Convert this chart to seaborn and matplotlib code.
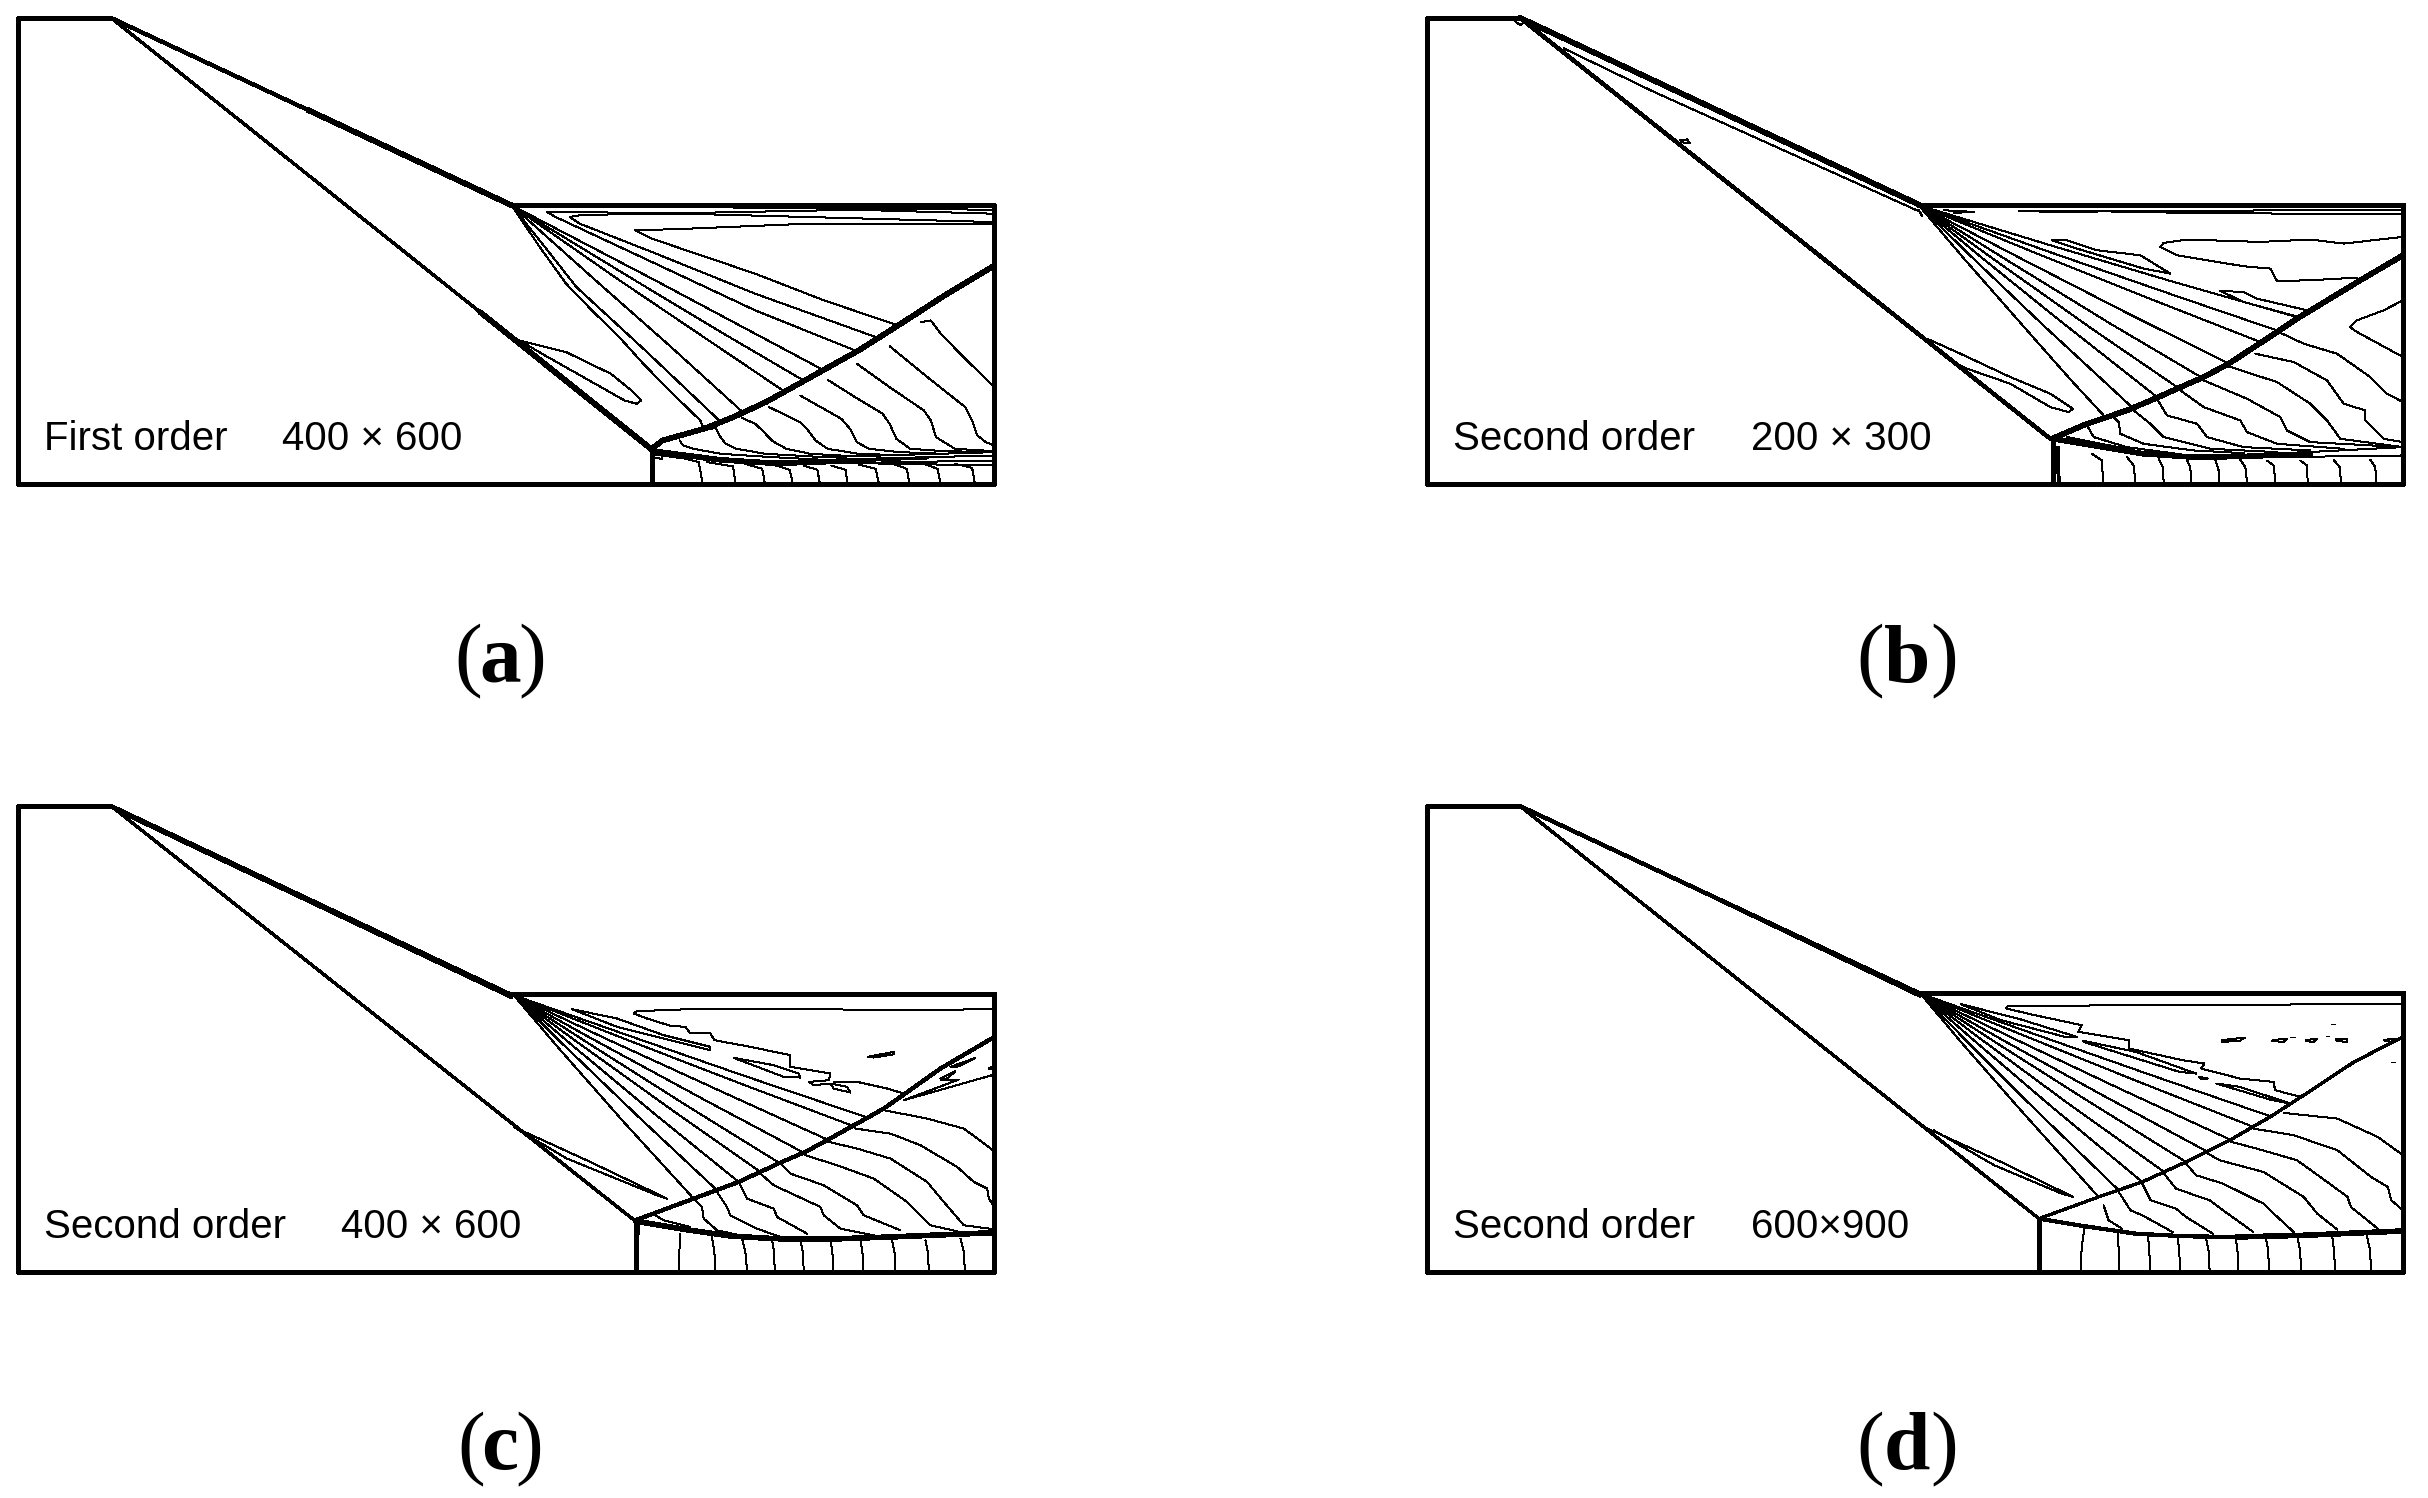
#!/usr/bin/env python3
"""Shock reflection contours: first order vs second order at several grid sizes."""

import pandas as pd
import matplotlib
matplotlib.use("Agg")
import matplotlib.pyplot as plt
import seaborn as sns

WIDTH, HEIGHT = 2428, 1498

# Values, every panel in its own reading units
# --- panel (a)
A_XLIM = (-1343, 1495)
A_YLIM = (912, -487)
A_FRAME = [[(-1072, -487), (-1343, -487), (-1343, 912), (1495, 912), (1495, 75), (92, 75)]]
A_HEAVY = [
    [(-500, -211), (92, 75)],
    [(0, 395), (500, 808)],
    [(505, 800), (530, 780), (650, 745), (740, 708), (830, 665), (940, 602), (1100, 510), (1215, 435), (1350, 345), (1495, 255)],
    [(505, 812), (600, 825), (700, 838), (850, 848), (1000, 845)],
]
A_MEDIUM = [
    [(-1072, -487), (-500, -211)],
    [(500, 812), (500, 912)],
]
A_LIGHT = [
    [(-1072, -487), (0, 395)],
    [(1000, 845), (1150, 838), (1300, 832)],
]
A_THIN = [
    [(1495, 130), (950, 130), (600, 145), (450, 150), (500, 175), (800, 280), (1000, 360), (1215, 435)],
    [(1495, 125), (600, 100), (300, 103), (260, 110), (290, 130), (500, 215), (800, 340), (1150, 470)],
    [(1495, 100), (1090, 88), (600, 98), (195, 95), (220, 110), (500, 245), (800, 390), (1090, 510)],
    [(360, 78), (1495, 88)],
    [(92, 75), (500, 295), (800, 460), (1000, 570)],
    [(92, 75), (460, 306), (700, 455), (940, 600)],
    [(92, 75), (400, 296), (650, 470), (880, 630)],
    [(92, 75), (350, 313), (550, 495), (760, 692)],
    [(92, 75), (200, 215), (280, 320), (480, 510), (700, 725)],
    [(92, 75), (170, 195), (250, 310), (330, 395), (400, 465), (470, 545), (540, 620), (640, 720), (650, 745)],
    [(580, 780), (590, 795), (620, 805), (700, 820), (850, 830), (1000, 838), (1495, 825)],
    [(655, 748), (685, 742), (695, 765), (712, 788), (745, 805), (830, 820), (1000, 830), (1495, 815)],
    [(760, 712), (800, 730), (825, 755), (850, 782), (890, 805), (960, 820), (1100, 828)],
    [(840, 680), (880, 700), (930, 725), (950, 745), (975, 780), (1010, 805), (1100, 820), (1250, 825)],
    [(930, 645), (990, 680), (1050, 715), (1075, 745), (1095, 785), (1130, 805), (1220, 815), (1350, 820)],
    [(1010, 598), (1090, 650), (1170, 700), (1190, 730), (1210, 775), (1250, 805), (1350, 812), (1495, 815)],
    [(1095, 550), (1190, 620), (1290, 690), (1310, 720), (1325, 770), (1380, 805), (1495, 812)],
    [(1190, 497), (1300, 590), (1410, 680), (1430, 720), (1445, 765), (1470, 785), (1495, 795)],
    [(1280, 425), (1310, 420), (1335, 455), (1400, 525), (1495, 620)],
    [(950, 850), (1495, 840)],
    [(1100, 848), (1495, 855)],
    [(115, 480), (250, 515), (380, 580), (440, 630), (468, 660), (455, 670), (420, 660), (300, 590), (180, 520), (115, 480)],
    [(510, 822), (528, 824), (528, 835), (510, 832)],
    [(530, 825), (600, 835), (635, 845), (642, 880), (645, 905)],
    [(660, 845), (735, 858), (742, 905)],
    [(770, 850), (820, 865), (827, 905)],
    [(860, 855), (900, 868), (908, 905)],
    [(940, 855), (980, 868), (987, 905)],
    [(1020, 855), (1062, 868), (1067, 905)],
    [(1100, 852), (1150, 865), (1158, 905)],
    [(1200, 850), (1240, 865), (1247, 905)],
    [(1290, 850), (1330, 865), (1337, 905)],
    [(1380, 850), (1430, 862), (1437, 905)],
]

# --- panel (b)
B_XLIM = (-1450, 1478)
B_YLIM = (882, -516)
B_FRAME = [[(-1172, -516), (-1450, -516), (-1450, 882), (1478, 882), (1478, 45), (25, 45)]]
B_HEAVY = [
    [(-1172, -517), (25, 43)],
    [(25, 45), (1478, 45)],
    [(425, 745), (530, 700), (650, 660), (740, 622), (800, 595), (880, 560), (955, 520), (1050, 458), (1165, 382), (1350, 270), (1478, 195)],
    [(430, 745), (550, 765), (700, 790), (850, 800), (1000, 798), (1200, 790)],
    [(428, 745), (428, 882)],
]
B_MEDIUM = [
    [(-1172, -517), (420, 745)],
]
B_LIGHT = []
B_THIN = [
    [(-1040, -425), (-770, -295), (-470, -160), (-170, -25), (30, 65), (35, 77), (25, 60)],
    [(-690, -150), (-670, -152), (-660, -140), (-680, -142), (-690, -150)],
    [(-1185, -505), (-1170, -495), (-1155, -505)],
    [(1000, 795), (1478, 770)],
    [(1100, 800), (1478, 795)],
    [(470, 740), (650, 775)],
    [(325, 62), (500, 62), (830, 68), (1100, 70), (1478, 70)],
    [(390, 65), (1478, 58)],
    [(100, 60), (190, 65), (130, 68)],
    [(425, 150), (470, 150), (560, 180), (690, 195), (780, 250), (700, 235), (500, 175), (425, 150)],
    [(1478, 140), (1300, 160), (1200, 148), (1050, 155), (830, 148), (760, 158), (750, 170), (800, 195), (1000, 228), (1080, 235), (1100, 272), (1200, 270), (1340, 262)],
    [(930, 302), (1000, 305), (1040, 325), (1190, 360), (1165, 380), (1000, 335), (930, 302)],
    [(1478, 330), (1420, 360), (1340, 390), (1318, 410), (1340, 425), (1478, 500)],
    [(25, 45), (420, 165), (780, 272), (1165, 382)],
    [(25, 45), (420, 186), (800, 318), (1105, 422)],
    [(25, 45), (380, 190), (700, 318), (1050, 455)],
    [(25, 45), (340, 209), (650, 368), (955, 520)],
    [(25, 45), (300, 216), (600, 400), (880, 565)],
    [(25, 45), (260, 214), (550, 419), (800, 590)],
    [(25, 45), (220, 207), (450, 392), (740, 620)],
    [(25, 45), (190, 206), (400, 406), (670, 655)],
    [(25, 45), (160, 204), (350, 420), (480, 567), (580, 675)],
    [(1105, 425), (1180, 460), (1280, 490), (1380, 560), (1430, 610), (1478, 635)],
    [(1035, 490), (1150, 515), (1250, 570), (1300, 640), (1365, 660), (1365, 690), (1420, 745), (1478, 755)],
    [(955, 528), (1100, 575), (1200, 640), (1250, 690), (1290, 745), (1478, 770)],
    [(880, 570), (1010, 625), (1110, 680), (1130, 720), (1200, 755), (1478, 770)],
    [(810, 600), (880, 650), (990, 690), (1010, 725), (1100, 760), (1300, 775)],
    [(740, 625), (770, 675), (860, 700), (890, 740), (1000, 770), (1200, 780)],
    [(670, 660), (720, 700), (760, 740), (900, 775), (1100, 785)],
    [(600, 670), (625, 695), (630, 730), (700, 760), (850, 780), (1000, 788)],
    [(530, 705), (550, 740), (650, 770), (800, 790)],
    [(50, 445), (150, 490), (300, 560), (420, 610), (488, 655), (475, 665), (420, 650), (300, 580), (170, 535), (140, 520)],
    [(545, 790), (575, 810), (578, 875)],
    [(650, 800), (670, 825), (675, 875)],
    [(745, 805), (757, 830), (760, 875)],
    [(830, 808), (840, 830), (842, 875)],
    [(915, 808), (925, 840), (927, 875)],
    [(990, 808), (1005, 830), (1010, 875)],
    [(1070, 810), (1090, 825), (1095, 875)],
    [(1170, 810), (1190, 825), (1192, 875)],
    [(1270, 808), (1288, 830), (1292, 875)],
    [(1380, 808), (1395, 830), (1397, 875)],
    [(445, 770), (448, 875)],
    [(440, 770), (442, 875)],
]

# --- panel (c)
C_XLIM = (-1416, 1512)
C_YLIM = (860, -537)
C_FRAME = [[(-1137, -537), (-1416, -537), (-1416, 860), (1512, 860), (1512, 27), (65, 27)]]
C_HEAVY = [
    [(65, 27), (1512, 27)],
    [(437, 708), (600, 735), (720, 752), (850, 760), (1000, 762), (1200, 755), (1512, 742)],
    [(437, 710), (437, 860)],
]
C_MEDIUM = [
    [(-1137, -537), (65, 30)],
    [(435, 705), (610, 640), (745, 590), (870, 532), (945, 500), (1015, 462), (1100, 415), (1180, 370), (1240, 328), (1350, 250), (1512, 155)],
]
C_LIGHT = [
    [(-1137, -537), (432, 705)],
]
C_THIN = [
    [(-1085, -505), (65, 40)],
    [(1512, 72), (1250, 75), (950, 72), (600, 72), (440, 78), (430, 85), (470, 100), (540, 122), (585, 125), (600, 145), (660, 145), (672, 165), (780, 185), (900, 210), (900, 245), (1020, 265), (1015, 285), (955, 290), (970, 300), (1020, 295)],
    [(1030, 290), (1100, 290), (1190, 310), (1240, 325)],
    [(1132, 215), (1210, 200), (1212, 207), (1150, 217), (1132, 215)],
    [(245, 72), (380, 100), (520, 150), (660, 185), (660, 195), (560, 170), (380, 125), (245, 72)],
    [(730, 218), (850, 240), (925, 265), (930, 277), (880, 275), (730, 218)],
    [(1020, 295), (1070, 305), (1080, 322), (1030, 310), (1020, 295)],
    [(1512, 268), (1240, 345), (1405, 283), (1350, 285)],
    [(1350, 280), (1395, 258), (1370, 280), (1350, 280)],
    [(1380, 245), (1455, 218), (1400, 245), (1380, 245)],
    [(1495, 250), (1512, 240), (1512, 255), (1495, 250)],
    [(70, 425), (300, 530), (530, 640), (500, 630), (230, 520), (70, 425)],
    [(70, 30), (400, 146), (750, 268), (1125, 395)],
    [(70, 30), (400, 160), (750, 295), (1095, 425)],
    [(70, 30), (350, 162), (700, 322), (1015, 465)],
    [(70, 30), (300, 158), (650, 348), (945, 505)],
    [(70, 30), (300, 178), (600, 368), (870, 535)],
    [(70, 30), (250, 163), (550, 378), (810, 560)],
    [(70, 30), (250, 184), (500, 392), (745, 590)],
    [(70, 30), (200, 160), (450, 400), (680, 615)],
    [(70, 30), (200, 183), (400, 410), (610, 640)],
    [(1180, 375), (1310, 400), (1420, 430), (1512, 498)],
    [(1095, 430), (1200, 445), (1290, 480), (1400, 545), (1450, 590), (1490, 610), (1495, 640), (1512, 665)],
    [(1015, 470), (1100, 490), (1200, 520), (1310, 590), (1360, 650), (1420, 720), (1512, 732)],
    [(945, 510), (1040, 540), (1150, 580), (1250, 650), (1320, 720), (1400, 738)],
    [(875, 540), (900, 565), (1000, 600), (1100, 660), (1120, 690), (1230, 735)],
    [(810, 565), (850, 600), (990, 665), (1000, 690), (1050, 730), (1150, 750)],
    [(750, 600), (770, 640), (850, 670), (860, 695), (950, 745)],
    [(680, 620), (710, 665), (720, 690), (800, 730), (870, 755)],
    [(610, 640), (635, 665), (640, 700), (680, 735), (750, 750)],
    [(495, 690), (520, 705), (600, 725)],
    [(570, 745), (567, 800), (565, 855)],
    [(665, 755), (672, 800), (675, 855)],
    [(755, 760), (765, 800), (770, 855)],
    [(845, 765), (851, 800), (853, 855)],
    [(930, 765), (937, 800), (940, 855)],
    [(1020, 765), (1026, 800), (1028, 855)],
    [(1110, 765), (1116, 800), (1118, 855)],
    [(1205, 765), (1212, 800), (1215, 855)],
    [(1305, 765), (1312, 800), (1315, 855)],
    [(1410, 760), (1420, 800), (1423, 855)],
    [(445, 715), (443, 855)],
]

# --- panel (d)
D_XLIM = (-1406, 1495)
D_YLIM = (875, -522)
D_FRAME = [[(-1130, -522), (-1406, -522), (-1406, 875), (1495, 875), (1495, 40), (59, 40)]]
D_HEAVY = [
    [(59, 40), (1495, 40)],
    [(1000, 770), (1200, 765), (1495, 752)],
]
D_MEDIUM = [
    [(-1130, -522), (59, 40)],
    [(413, 715), (550, 738), (700, 760), (850, 768), (1000, 770)],
    [(413, 720), (413, 875)],
]
D_LIGHT = [
    [(-1130, -522), (413, 715)],
    [(413, 715), (590, 650), (720, 605), (850, 545), (980, 480), (1100, 410), (1200, 345), (1350, 245), (1495, 170)],
]
D_THIN = [
    [(-1060, -490), (59, 50)],
    [(1495, 72), (1250, 72), (1000, 75), (700, 75), (320, 78), (315, 85), (400, 105), (540, 135), (530, 155), (680, 180), (680, 205), (840, 240), (905, 250), (895, 265), (1010, 295), (1110, 305), (1115, 330), (1190, 350)],
    [(180, 72), (350, 115), (525, 170), (490, 170), (300, 120), (180, 72)],
    [(545, 182), (700, 215), (880, 280), (830, 275), (545, 185), (545, 182)],
    [(940, 310), (1010, 320), (1160, 370), (1100, 358), (940, 310)],
    [(890, 290), (915, 295), (895, 296), (890, 290)],
    [(958, 180), (1025, 172), (1010, 182), (958, 185), (958, 180)],
    [(1107, 180), (1150, 175), (1140, 185), (1107, 183), (1107, 180)],
    [(1207, 180), (1240, 175), (1230, 185), (1207, 183), (1207, 180)],
    [(1295, 178), (1330, 175), (1330, 185), (1300, 183), (1295, 178)],
    [(1160, 170), (1175, 170)],
    [(1265, 168), (1275, 168)],
    [(1280, 132), (1292, 132)],
    [(1437, 180), (1470, 175), (1460, 185), (1437, 180)],
    [(1460, 245), (1472, 245)],
    [(60, 435), (300, 545), (515, 650), (480, 640), (280, 555), (100, 450)],
    [(60, 40), (400, 162), (750, 286), (1100, 408)],
    [(60, 40), (380, 171), (700, 301), (1050, 440)],
    [(60, 40), (350, 181), (650, 324), (985, 480)],
    [(60, 40), (320, 188), (600, 344), (915, 515)],
    [(60, 40), (280, 184), (550, 357), (850, 545)],
    [(60, 40), (250, 184), (500, 370), (785, 575)],
    [(60, 40), (220, 181), (450, 379), (720, 605)],
    [(60, 40), (200, 185), (400, 386), (650, 630)],
    [(60, 40), (180, 184), (350, 380), (590, 650)],
    [(1140, 398), (1300, 415), (1420, 470), (1495, 525)],
    [(1050, 445), (1170, 465), (1300, 510), (1400, 590), (1450, 620), (1460, 660), (1495, 690)],
    [(985, 485), (1060, 505), (1180, 540), (1290, 620), (1330, 650), (1340, 680), (1420, 745)],
    [(915, 520), (950, 540), (1080, 575), (1200, 650), (1240, 700), (1300, 748)],
    [(850, 550), (880, 585), (960, 610), (1080, 670), (1100, 690), (1170, 755)],
    [(785, 580), (820, 625), (920, 660), (960, 690), (1050, 755)],
    [(720, 610), (745, 660), (820, 685), (850, 710), (930, 760)],
    [(650, 635), (685, 690), (720, 705), (810, 755)],
    [(605, 675), (620, 720), (660, 745)],
    [(548, 745), (540, 800), (537, 868)],
    [(647, 760), (650, 810), (652, 868)],
    [(737, 768), (741, 810), (743, 868)],
    [(825, 770), (830, 810), (832, 868)],
    [(910, 775), (917, 810), (920, 868)],
    [(998, 775), (1003, 810), (1005, 868)],
    [(1088, 775), (1094, 810), (1097, 868)],
    [(1182, 775), (1189, 810), (1192, 868)],
    [(1285, 772), (1290, 810), (1293, 868)],
    [(1388, 768), (1397, 810), (1400, 868)],
]

PANEL_LETTERS = ["a", "b", "c", "d"]
SCHEMES = ["First order", "Second order", "Second order", "Second order"]
GRIDS = ["400 \u00d7 600", "200 \u00d7 300", "400 \u00d7 600", "600\u00d7900"]

# pixel layout of the figure
PANEL_BOXES = [(18, 18, 994.5, 484.5), (1427, 18, 2403, 484.5),
               (18, 806, 994.5, 1272), (1427, 806, 2403, 1272)]
GRID_TEXT_OFFSET = [264, 324, 323, 324]
BRACKET_GAP = [18, 23, 15, 23]
CAPTION_CENTRE = [482, 480, 482, 480]


def px(width):
    return width * 72 / 100


def draw_lines(ax, lines, width):
    for line in lines:
        df = pd.DataFrame(line, columns=["x", "y"])
        sns.lineplot(data=df, x="x", y="y", sort=False, estimator=None, errorbar=None,
                     color="black", linewidth=px(width), antialiased=False, clip_on=False,
                     legend=False, ax=ax)


def draw_panel(box, xlim, ylim, frame, heavy, medium, light, thin):
    left, top, right, bottom = box
    ax = fig.add_axes([left / WIDTH, 1 - bottom / HEIGHT, (right - left) / WIDTH, (bottom - top) / HEIGHT])
    draw_lines(ax, thin, 1)
    draw_lines(ax, light, 2.3)
    draw_lines(ax, medium, 3.2)
    draw_lines(ax, heavy, 4.6)
    draw_lines(ax, frame, 3.4)
    ax.set_xlim(*xlim)
    ax.set_ylim(*ylim)
    ax.axis("off")
    return ax


def put_text(x, y, text, **kwargs):
    fig.text(x / WIDTH, 1 - y / HEIGHT, text, va="baseline", color="black", **kwargs)


sns.set_style("white")
plt.rcParams["font.family"] = ["Liberation Sans", "DejaVu Sans"]

fig = plt.figure(figsize=(WIDTH / 100, HEIGHT / 100), dpi=100, facecolor="white")

draw_panel(PANEL_BOXES[0], A_XLIM, A_YLIM, A_FRAME, A_HEAVY, A_MEDIUM, A_LIGHT, A_THIN)
draw_panel(PANEL_BOXES[1], B_XLIM, B_YLIM, B_FRAME, B_HEAVY, B_MEDIUM, B_LIGHT, B_THIN)
draw_panel(PANEL_BOXES[2], C_XLIM, C_YLIM, C_FRAME, C_HEAVY, C_MEDIUM, C_LIGHT, C_THIN)
draw_panel(PANEL_BOXES[3], D_XLIM, D_YLIM, D_FRAME, D_HEAVY, D_MEDIUM, D_LIGHT, D_THIN)

for i, letter in enumerate(PANEL_LETTERS):
    left, top, right, bottom = PANEL_BOXES[i]
    put_text(left + 26, bottom - 34.5, SCHEMES[i], fontsize=29)
    put_text(left + GRID_TEXT_OFFSET[i], bottom - 34.5, GRIDS[i], fontsize=29)

    # sub-caption, bold letter between regular brackets
    centre = left + CAPTION_CENTRE[i]
    base = bottom + 197
    put_text(centre, base, letter, fontsize=60, family="Liberation Serif", weight="bold", ha="center")
    put_text(centre - BRACKET_GAP[i], base, "(", fontsize=60, family="Liberation Serif", ha="right")
    put_text(centre + BRACKET_GAP[i], base, ")", fontsize=60, family="Liberation Serif", ha="left")

fig.savefig("out.png", dpi=100, facecolor="white")
